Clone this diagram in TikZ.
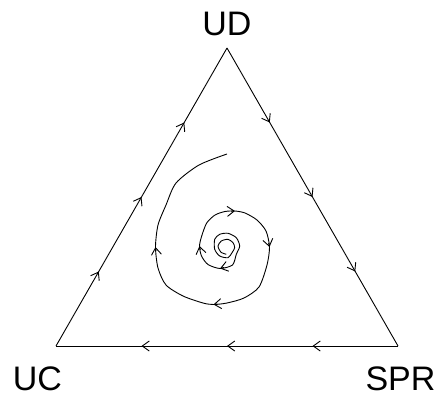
\documentclass[tikz,border=0pt]{standalone}
\usepackage{fontspec}
\setmainfont{Liberation Sans}
\usetikzlibrary{arrows.meta,decorations.markings,calc}
\begin{document}
\begin{tikzpicture}[x=1pt,y=-1pt,
  line width=0.9pt, line join=round,
  >={Straight Barb[length=7pt,width=10pt]},
  edgearrows/.style={postaction={decorate},
    decoration={markings,
      mark=at position 0.25 with {\arrow{>}},
      mark=at position 0.5 with {\arrow{>}},
      mark=at position 0.75 with {\arrow{>}}}},
  lbl/.style={font=\fontsize{34}{40}\selectfont, inner sep=0pt, anchor=base},
  chev/.style={->, shorten <=0pt}
]
\useasboundingbox (0,0) rectangle (435,396);

% vertices
\coordinate (ud) at (227,48);
\coordinate (uc) at (56,346);
\coordinate (spr) at (398,346);

% labels
\node[lbl] (udl) at (227,35) {UD};
\node[lbl] (ucl) at (37.5,390) {UC};
\node[lbl] (sprl) at (400.5,390) {SPR};

% triangle edges (heteroclinic cycle)
\draw[edgearrows] (ud) -- (spr);
\draw[edgearrows] (spr) -- (uc);
\draw[edgearrows] (uc) -- (ud);

% arrow tips on the spiral and the points just before them
\coordinate (p1) at (232.5,265);   \coordinate (a1) at (220,268.5);
\coordinate (p2) at (201.5,256);   \coordinate (a2) at (199.5,246);
\coordinate (p3) at (225,211.5);   \coordinate (a3) at (235,211);
\coordinate (p4) at (266,231);     \coordinate (a4) at (269.5,247);
\coordinate (p5) at (227,303);     \coordinate (a5) at (213.5,304.5);
\coordinate (p6) at (158,268);     \coordinate (a6) at (155.5,247);
\coordinate (send) at (227,154);

% spiral trajectory (outward)
\draw plot[smooth, tension=0.45] coordinates {
  (226.3,254.3) (220.7,252) (218,246) (221.3,241) (228,239.3) (233,242.7)
  (234.7,247.7) (232,252.7) (228,257.7) (219.7,256) (214.7,249.3)
  (214.7,239.3) (219.7,234.3) (228,233.3) (236.3,237.7) (239.7,246)
  (236.3,254.3) (p1) (a1) (208,264.5) (p2) (a2) (201.7,236) (206.7,223)
  (215,215) (p3) (a3) (245,213) (257,220) (p4) (a4) (267,265) (259,287)
  (244,298) (p5) (a5) (203,303) (183,296) (166,285) (p6) (a6) (158,225)
  (166,205) (176,183) (199,165) (send)};

% arrowheads on the spiral
\draw[chev] ($(a1)!4pt!(p1)$) -- (a1);
\draw[chev] ($(a2)!4pt!(p2)$) -- (a2);
\draw[chev] ($(a3)!4pt!(p3)$) -- (a3);
\draw[chev] ($(a4)!4pt!(p4)$) -- (a4);
\draw[chev] ($(a5)!4pt!(p5)$) -- (a5);
\draw[chev] ($(a6)!4pt!(p6)$) -- (a6);
\end{tikzpicture}
\end{document}
